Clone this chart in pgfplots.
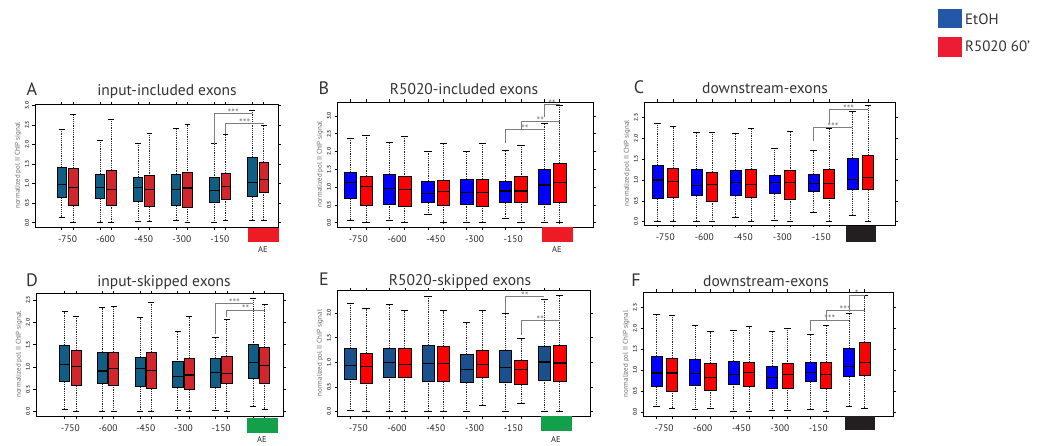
\documentclass[border=0pt]{standalone}
\usepackage{fontspec}
\setmainfont{PT Sans}
\usepackage{pgfplots}
\pgfplotsset{compat=1.18}
\usepgfplotslibrary{statistics}

\definecolor{tealbox}{RGB}{16,94,132}
\definecolor{redbox}{RGB}{210,38,44}
\definecolor{navybox}{RGB}{26,80,140}
\definecolor{legblue}{RGB}{36,87,168}
\definecolor{legred}{RGB}{237,28,53}
\definecolor{aered}{RGB}{237,28,36}
\definecolor{aegreen}{RGB}{20,160,75}
\definecolor{aeblack}{RGB}{35,31,32}
\definecolor{brk}{RGB}{125,125,125}

% one box: position, lower whisker, q1, median, q3, upper whisker, fill
\newcommand{\bx}[7]{\addplot[boxplot prepared={draw position=#1,
  lower whisker=#2, lower quartile=#3, median=#4, upper quartile=#5, upper whisker=#6,
  every box/.style={draw=black, fill=#7, line width=0.7pt}}] coordinates {};}
% significance bracket: x1, start, top, x2, stars
\newcommand{\sig}[5]{%
  \draw[brk, line width=0.8pt] (axis cs:#1,#2) |- (axis cs:#4,#3);
  \node[brk, anchor=base, inner sep=0pt, yshift=-3pt, font=\fontsize{10.5}{11}\selectfont]
    at (axis cs:{(#1+#4)/2},#3) {#5};}
% y axis label, placed by hand left of the tick labels
\newcommand{\ylab}{\node[rotate=90, anchor=center, inner sep=0pt, text=black!60,
  font=\fontsize{7}{7}\selectfont] at ([xshift=-17pt]rel axis cs:0,0.5)
  {normalized pol II ChIP signal};}

\pgfplotsset{
  boxplot/draw direction=y,
  boxplot/draw/lower whisker/.code={
    \draw[black!85, line width=0.7pt, dash pattern=on 1.2pt off 1pt]
      (boxplot cs:\pgfplotsboxplotvalue{lower quartile}) -- (boxplot cs:\pgfplotsboxplotvalue{lower whisker});
    \draw[black, line width=0.7pt]
      (boxplot whisker cs:\pgfplotsboxplotvalue{lower whisker},0) -- (boxplot whisker cs:\pgfplotsboxplotvalue{lower whisker},1);
  },
  boxplot/draw/upper whisker/.code={
    \draw[black!85, line width=0.7pt, dash pattern=on 1.2pt off 1pt]
      (boxplot cs:\pgfplotsboxplotvalue{upper quartile}) -- (boxplot cs:\pgfplotsboxplotvalue{upper whisker});
    \draw[black, line width=0.7pt]
      (boxplot whisker cs:\pgfplotsboxplotvalue{upper whisker},0) -- (boxplot whisker cs:\pgfplotsboxplotvalue{upper whisker},1);
  },
  boxplot/every median/.style={line width=1.2pt, black},
  panel/.style={
    scale only axis, anchor=south west, clip=false,
    axis line style={line width=0.8pt},
    ytick={0,0.5,1,1.5,2,2.5,3},
    tick align=outside, major tick length=2.5pt,
    tick style={black, line width=0.6pt},
    yticklabel style={rotate=90, anchor=south, font=\fontsize{5.5}{6}\selectfont\bfseries, text=black!75},
    /pgf/number format/fixed, /pgf/number format/fixed zerofill,
    /pgf/number format/precision=1, /pgf/number format/assume math mode=true,
    xticklabels={},
    xticklabel style={font=\fontsize{9.5}{10}\selectfont, text=black!85, yshift=-5pt},
    extra x ticks={0,1,2,3,4},
    extra x tick labels={-750,-600,-450,-300,-150},
    extra x tick style={major tick length=0pt},
  },
}

\begin{document}
\begin{tikzpicture}[x=1pt,y=1pt]
\useasboundingbox (0,0) rectangle (1042,445);

% ---------- A ----------
\begin{axis}[panel, at={(35pt,218pt)}, width=243pt, height=123pt,
  xmin=-0.853, xmax=5.525, ymin=-0.11, ymax=3.04,
  xtick={-0.15,0.15,0.85,1.15,1.85,2.15,2.85,3.15,3.85,4.15,4.85,5.15},
  boxplot/box extend=0.245, boxplot/whisker extend=0.15]
\bx{-0.15}{0.14}{0.64}{0.98}{1.41}{2.39}{tealbox}
\bx{0.15}{0.00}{0.44}{0.90}{1.39}{2.77}{redbox}
\bx{0.85}{0.00}{0.62}{0.90}{1.25}{2.12}{tealbox}
\bx{1.15}{0.00}{0.45}{0.85}{1.34}{2.65}{redbox}
\bx{1.85}{0.03}{0.54}{0.90}{1.17}{2.03}{tealbox}
\bx{2.15}{0.03}{0.41}{0.85}{1.20}{2.30}{redbox}
\bx{2.85}{0.05}{0.44}{0.86}{1.25}{2.42}{tealbox}
\bx{3.15}{0.00}{0.40}{0.89}{1.28}{2.51}{redbox}
\bx{3.85}{0.01}{0.53}{0.83}{1.15}{2.02}{tealbox}
\bx{4.15}{0.06}{0.60}{0.92}{1.26}{2.26}{redbox}
\bx{4.85}{0.07}{0.67}{1.03}{1.67}{2.89}{tealbox}
\bx{5.15}{0.06}{0.78}{1.11}{1.54}{2.49}{redbox}
\sig{3.85}{2.02}{2.80}{4.85}{***}
\sig{4.15}{2.26}{2.54}{5.15}{***}
\ylab
\end{axis}

% ---------- B ----------
\begin{axis}[panel, at={(337pt,218pt)}, width=256pt, height=125pt,
  xmin=-0.55, xmax=6.06, ymin=-0.12, ymax=3.39,
  xtick={-0.2,0.2,0.8,1.2,1.8,2.2,2.8,3.2,3.8,4.2,4.8,5.2},
  boxplot/box extend=0.32, boxplot/whisker extend=0.19]
\bx{-0.2}{0.07}{0.68}{1.13}{1.42}{2.37}{blue}
\bx{0.2}{0.00}{0.48}{1.01}{1.31}{2.46}{red}
\bx{0.8}{0.06}{0.52}{0.96}{1.35}{2.26}{blue}
\bx{1.2}{0.00}{0.47}{0.94}{1.29}{2.43}{red}
\bx{1.8}{0.23}{0.56}{0.82}{1.17}{2.01}{blue}
\bx{2.2}{0.00}{0.50}{0.87}{1.20}{2.23}{red}
\bx{2.8}{0.00}{0.52}{0.85}{1.23}{2.01}{blue}
\bx{3.2}{0.00}{0.47}{0.84}{1.23}{2.23}{red}
\bx{3.8}{0.12}{0.57}{0.89}{1.17}{2.03}{blue}
\bx{4.2}{0.00}{0.58}{0.89}{1.29}{2.17}{red}
\bx{4.8}{0.00}{0.52}{1.06}{1.50}{2.79}{blue}
\bx{5.2}{0.00}{0.56}{1.14}{1.67}{3.30}{red}
\sig{3.8}{2.23}{2.61}{4.8}{**}
\sig{4.2}{2.61}{2.84}{5.2}{**}
\sig{4.8}{2.98}{3.31}{5.2}{**}
\ylab
\end{axis}

% ---------- C ----------
\begin{axis}[panel, at={(644pt,220pt)}, width=251pt, height=123pt,
  xmin=-0.545, xmax=5.89, ymin=-0.08, ymax=2.87,
  xtick={-0.2,0.2,0.8,1.2,1.8,2.2,2.8,3.2,3.8,4.2,4.8,5.2},
  boxplot/box extend=0.28, boxplot/whisker extend=0.17]
\bx{-0.2}{0.00}{0.56}{1.00}{1.35}{2.35}{blue}
\bx{0.2}{0.00}{0.58}{0.96}{1.28}{2.28}{red}
\bx{0.8}{0.00}{0.63}{0.87}{1.25}{2.15}{blue}
\bx{1.2}{0.00}{0.49}{0.89}{1.18}{2.15}{red}
\bx{1.8}{0.10}{0.62}{0.94}{1.23}{2.13}{blue}
\bx{2.2}{0.00}{0.58}{0.90}{1.25}{2.23}{red}
\bx{2.8}{0.03}{0.68}{0.94}{1.12}{1.77}{blue}
\bx{3.2}{0.00}{0.54}{0.94}{1.22}{2.16}{red}
\bx{3.8}{0.22}{0.72}{0.92}{1.13}{1.72}{blue}
\bx{4.2}{0.00}{0.57}{0.91}{1.25}{2.24}{red}
\bx{4.8}{0.14}{0.77}{1.01}{1.53}{2.64}{blue}
\bx{5.2}{0.00}{0.77}{1.06}{1.60}{2.78}{red}
\sig{3.8}{1.93}{2.25}{4.8}{***}
\sig{4.2}{2.36}{2.69}{5.2}{***}
\ylab
\end{axis}

% ---------- D ----------
\begin{axis}[panel, at={(36pt,29pt)}, width=247pt, height=123pt,
  xmin=-0.91, xmax=5.64, ymin=-0.097, ymax=2.66,
  xtick={-0.15,0.15,0.85,1.15,1.85,2.15,2.85,3.15,3.85,4.15,4.85,5.15},
  boxplot/box extend=0.27, boxplot/whisker extend=0.16]
\bx{-0.15}{0.05}{0.67}{1.06}{1.49}{2.24}{tealbox}
\bx{0.15}{0.00}{0.58}{1.01}{1.38}{2.14}{redbox}
\bx{0.85}{0.00}{0.63}{0.91}{1.34}{2.33}{tealbox}
\bx{1.15}{0.00}{0.60}{0.96}{1.34}{2.37}{redbox}
\bx{1.85}{0.00}{0.56}{0.96}{1.22}{2.11}{tealbox}
\bx{2.15}{0.00}{0.52}{0.92}{1.34}{2.46}{redbox}
\bx{2.85}{0.02}{0.54}{0.78}{1.12}{1.81}{tealbox}
\bx{3.15}{0.00}{0.49}{0.82}{1.19}{2.13}{redbox}
\bx{3.85}{0.02}{0.54}{0.87}{1.19}{1.66}{tealbox}
\bx{4.15}{0.00}{0.63}{0.86}{1.25}{2.07}{redbox}
\bx{4.85}{0.13}{0.74}{1.10}{1.50}{2.54}{tealbox}
\bx{5.15}{0.05}{0.64}{1.03}{1.44}{2.40}{redbox}
\sig{3.85}{1.75}{2.43}{4.85}{***}
\sig{4.15}{2.13}{2.28}{5.15}{**}
\ylab
\end{axis}

% ---------- E ----------
\begin{axis}[panel, at={(337pt,29pt)}, width=253pt, height=126pt,
  xmin=-0.55, xmax=5.98, ymin=-0.088, ymax=2.47,
  xtick={-0.2,0.2,0.8,1.2,1.8,2.2,2.8,3.2,3.8,4.2,4.8,5.2},
  boxplot/box extend=0.32, boxplot/whisker extend=0.19]
\bx{-0.2}{0.03}{0.66}{0.94}{1.29}{2.20}{navybox}
\bx{0.2}{0.00}{0.58}{0.92}{1.19}{2.09}{red}
\bx{0.8}{0.00}{0.70}{1.00}{1.29}{2.18}{navybox}
\bx{1.2}{0.00}{0.70}{0.95}{1.29}{2.05}{red}
\bx{1.8}{0.00}{0.62}{0.98}{1.34}{2.35}{navybox}
\bx{2.2}{0.00}{0.61}{0.98}{1.32}{2.05}{red}
\bx{2.8}{0.00}{0.59}{0.85}{1.17}{1.81}{navybox}
\bx{3.2}{0.12}{0.69}{0.95}{1.25}{2.05}{red}
\bx{3.8}{0.00}{0.60}{0.89}{1.24}{1.99}{navybox}
\bx{4.2}{0.17}{0.55}{0.85}{1.04}{1.49}{red}
\bx{4.8}{0.00}{0.64}{1.01}{1.32}{2.29}{navybox}
\bx{5.2}{0.00}{0.61}{0.99}{1.34}{2.37}{red}
\sig{3.8}{2.00}{2.34}{4.8}{**}
\sig{4.2}{1.56}{1.85}{5.2}{**}
\ylab
\end{axis}

% ---------- F ----------
\begin{axis}[panel, at={(643pt,29pt)}, width=250pt, height=124pt,
  xmin=-0.55, xmax=5.94, ymin=-0.10, ymax=2.87,
  xtick={-0.2,0.2,0.8,1.2,1.8,2.2,2.8,3.2,3.8,4.2,4.8,5.2},
  boxplot/box extend=0.29, boxplot/whisker extend=0.17]
\bx{-0.2}{0.14}{0.61}{0.93}{1.34}{2.33}{blue}
\bx{0.2}{0.09}{0.50}{0.93}{1.29}{2.32}{red}
\bx{0.8}{0.06}{0.64}{0.91}{1.25}{2.06}{blue}
\bx{1.2}{0.09}{0.52}{0.83}{1.17}{1.92}{red}
\bx{1.8}{0.00}{0.66}{0.89}{1.21}{1.94}{blue}
\bx{2.2}{0.00}{0.60}{0.94}{1.19}{2.04}{red}
\bx{2.8}{0.04}{0.57}{0.83}{1.10}{1.92}{blue}
\bx{3.2}{0.04}{0.57}{0.89}{1.15}{2.00}{red}
\bx{3.8}{0.06}{0.73}{0.95}{1.19}{1.85}{blue}
\bx{4.2}{0.00}{0.56}{0.89}{1.19}{2.08}{red}
\bx{4.8}{0.12}{0.84}{1.09}{1.53}{2.37}{blue}
\bx{5.2}{0.09}{0.87}{1.18}{1.66}{2.78}{red}
\sig{3.8}{1.93}{2.20}{4.8}{***}
\sig{4.2}{2.20}{2.42}{5.2}{***}
\sig{4.8}{2.40}{2.80}{5.2}{*}
\ylab
\end{axis}

% panel letters and titles
\begin{scope}[every node/.style={anchor=base, inner sep=0pt, text=black!80}]
\node[font=\fontsize{18}{18}\selectfont] at (32,349) {A};
\node[font=\fontsize{15.5}{16}\selectfont] at (167,349) {input-included exons};
\node[font=\fontsize{18}{18}\selectfont] at (324,350) {B};
\node[font=\fontsize{15.5}{16}\selectfont] at (464,350) {R5020-included exons};
\node[font=\fontsize{18}{18}\selectfont] at (639,351) {C};
\node[font=\fontsize{15.5}{16}\selectfont] at (765,351) {downstream-exons};
\node[font=\fontsize{18}{18}\selectfont] at (32,158) {D};
\node[font=\fontsize{15.5}{16}\selectfont] at (164,158) {input-skipped exons};
\node[font=\fontsize{18}{18}\selectfont] at (324,159) {E};
\node[font=\fontsize{15.5}{16}\selectfont] at (460,159) {R5020-skipped exons};
\node[font=\fontsize{18}{18}\selectfont] at (636,158) {F};
\node[font=\fontsize{15.5}{16}\selectfont] at (766,158) {downstream-exons};
\end{scope}

% exon markers under the last group
\fill[aered] (248,203) rectangle (279,217);
\fill[aered] (542,203) rectangle (573,218);
\fill[aeblack] (846,203) rectangle (876,219);
\fill[aegreen] (247,12) rectangle (278,27);
\fill[aegreen] (541,14) rectangle (572,29);
\fill[aeblack] (845,15) rectangle (875,29);
\begin{scope}[every node/.style={anchor=base, inner sep=0pt, text=black!85, font=\fontsize{8.5}{9}\selectfont}]
\node at (263,192) {AE};
\node at (557,192) {AE};
\node at (262,2.5) {AE};
\node at (556,2.5) {AE};
\end{scope}

% legend
\fill[legblue] (938,417) rectangle (962,436);
\fill[legred] (938,388) rectangle (962,408);
\node[anchor=west, inner sep=0pt, font=\fontsize{15}{16}\selectfont, text=black!80] at (965,425.5) {EtOH};
\node[anchor=west, inner sep=0pt, font=\fontsize{15}{16}\selectfont, text=black!80] at (965,398.5) {R5020 60’};
\end{tikzpicture}
\end{document}
